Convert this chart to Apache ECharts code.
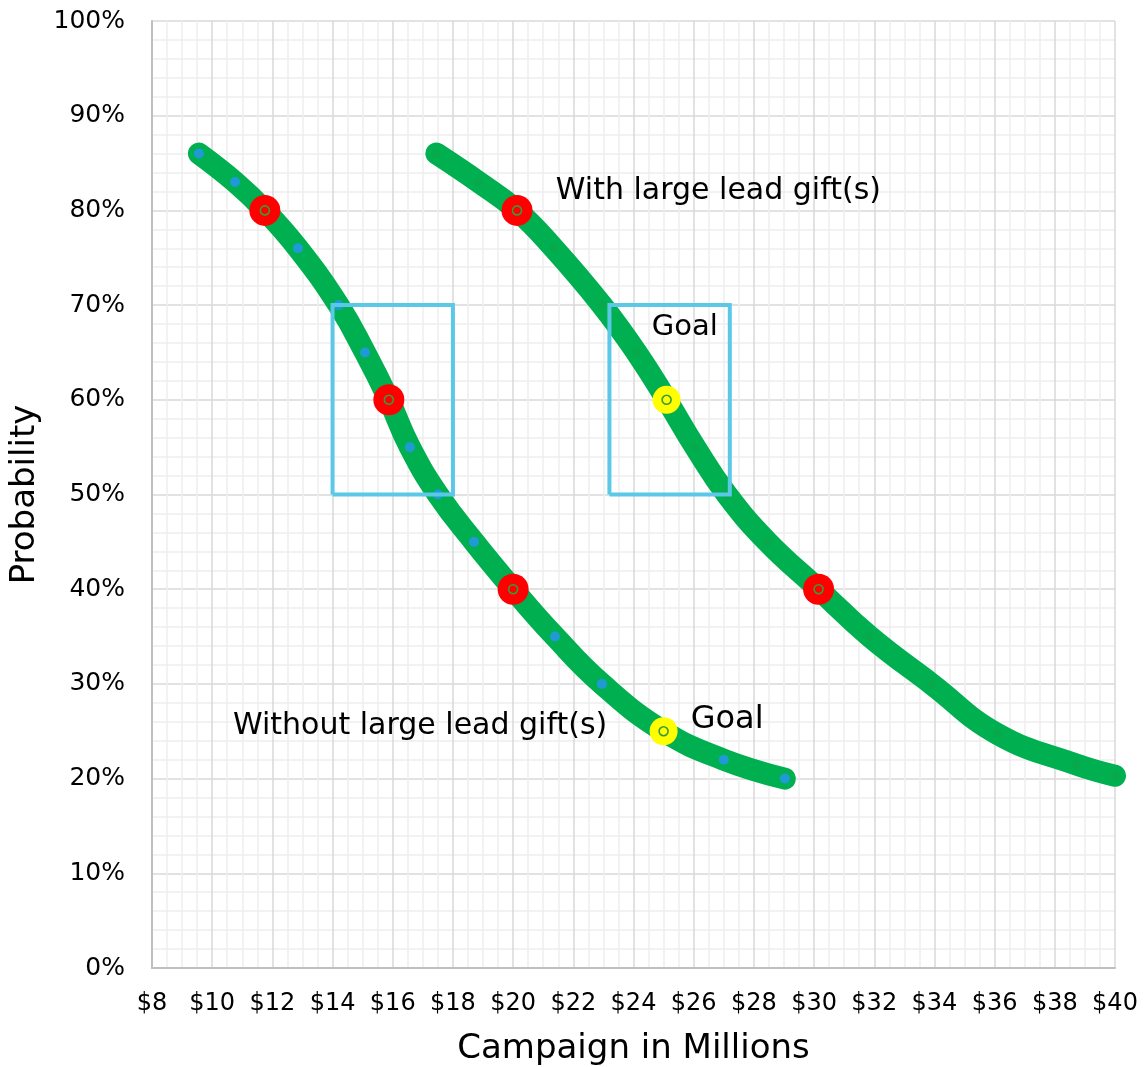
<!DOCTYPE html>
<html>
<head>
<meta charset="utf-8">
<script src="https://cdn.jsdelivr.net/npm/echarts@6/dist/echarts.min.js"></script>
<style>
html,body{margin:0;padding:0;background:#fff;}
#chart{width:1144px;height:1067px;}
</style>
</head>
<body>
<div id="chart"></div>
<script>
// Data
const withoutX = [9.56, 10.76, 11.75, 12.85, 14.2, 15.08, 15.87, 16.57, 17.5, 18.7, 20.0, 21.39, 22.95, 25.0, 27.0, 29.03];
const withoutY = [86, 83, 80, 76, 70, 65, 60, 55, 50, 45, 40, 35, 30, 25, 22, 20];
const withX = [17.45, 18.85, 20.13, 21.35, 22.95, 24.1, 25.1, 26.05, 27.1, 28.45, 30.15, 31.85, 33.9, 36.1, 38.7, 40.0];
const withY = [86, 83, 80, 76, 70, 65, 60, 55, 50, 45, 40, 35, 30, 24.7, 21.5, 20.3];
const redX = [11.75, 15.87, 20.0, 20.13, 30.15];
const redY = [80, 60, 40, 80, 40];
const goalX = [25.0, 25.1];
const goalY = [25, 60];
const box1X = [14, 14, 18, 18, 14];
const box1Y = [50, 70, 70, 50, 50];
const box2X = [23.2, 23.2, 27.2, 27.2, 23.2];
const box2Y = [50, 70, 70, 50, 50];
const labelTexts = ['With large lead gift(s)', 'Without large lead gift(s)', 'Goal', 'Goal'];
const labelX = [21.42, 10.69, 24.61, 25.9];
const labelY = [82.0, 25.5, 67.6, 26.2];
const labelSizes = [30, 30, 29, 32];
const xTicks = [8, 10, 12, 14, 16, 18, 20, 22, 24, 26, 28, 30, 32, 34, 36, 38, 40];
const yTicks = [0, 10, 20, 30, 40, 50, 60, 70, 80, 90, 100];

const zip = (a, b) => a.map((v, i) => [v, b[i]]);
const FONT = 'DejaVu Sans';

const chart = echarts.init(document.getElementById('chart'), null, {renderer: 'canvas'});
const option = {
  animation: false,
  backgroundColor: '#ffffff',
  textStyle: {fontFamily: FONT},
  grid: {left: 152, right: 29, top: 21, bottom: 99, containLabel: false, outerBoundsMode: 'none'},
  xAxis: {
    type: 'value', min: xTicks[0], max: xTicks[xTicks.length - 1], interval: 2,
    name: 'Campaign in Millions', nameLocation: 'middle', nameGap: 64,
    nameTextStyle: {fontSize: 34, color: '#000', fontFamily: FONT},
    axisLine: {show: true, lineStyle: {color: '#bfbfbf', width: 2}},
    axisTick: {show: false},
    axisLabel: {fontSize: 24, color: '#000', margin: 24, formatter: v => '$' + v, fontFamily: FONT},
    splitLine: {show: true, lineStyle: {color: '#d9d9d9', width: 1.5}},
    minorTick: {show: false, splitNumber: 4},
    minorSplitLine: {show: true, lineStyle: {color: '#eeeeee', width: 1.5}}
  },
  yAxis: {
    type: 'value', min: yTicks[0], max: yTicks[yTicks.length - 1], interval: 10,
    name: 'Probability', nameLocation: 'middle', nameGap: 108, nameRotate: 90,
    nameTextStyle: {fontSize: 34, color: '#000', fontFamily: FONT},
    axisLine: {show: true, lineStyle: {color: '#bfbfbf', width: 2}},
    axisTick: {show: false},
    axisLabel: {fontSize: 25, color: '#000', margin: 27, formatter: v => v + '%', fontFamily: FONT},
    splitLine: {show: true, lineStyle: {color: '#d9d9d9', width: 1.5}},
    minorTick: {show: false, splitNumber: 5},
    minorSplitLine: {show: true, lineStyle: {color: '#eeeeee', width: 1.5}}
  },
  series: [
    {
      type: 'line', name: 'Without', data: zip(withoutX, withoutY), smooth: 0.45,
      showSymbol: true, symbol: 'circle', symbolSize: 10,
      itemStyle: {color: '#1f9ad6', opacity: 1},
      lineStyle: {color: '#00b050', width: 22, cap: 'round', join: 'round'},
      z: 2
    },
    {
      type: 'line', name: 'With', data: zip(withX, withY), smooth: 0.45,
      showSymbol: true, symbol: 'circle', symbolSize: 9,
      itemStyle: {color: '#07a94b', opacity: 1},
      lineStyle: {color: '#00b050', width: 22, cap: 'round', join: 'round'},
      z: 2
    },
    {
      type: 'line', data: zip(box1X, box1Y), showSymbol: false, silent: true,
      lineStyle: {color: '#5bc8e8', width: 4, join: 'miter'}, z: 3
    },
    {
      type: 'line', data: zip(box2X, box2Y), showSymbol: false, silent: true,
      lineStyle: {color: '#5bc8e8', width: 4, join: 'miter'}, z: 3
    },
    {
      type: 'scatter', data: zip(redX, redY), symbol: 'circle', symbolSize: 31,
      itemStyle: {color: '#ff0000', opacity: 1}, z: 4
    },
    {
      type: 'scatter', data: zip(goalX, goalY), symbol: 'circle', symbolSize: 28,
      itemStyle: {color: '#ffff00', opacity: 1}, z: 4
    },
    {
      type: 'scatter', data: zip(redX.concat(goalX), redY.concat(goalY)), symbol: 'circle', symbolSize: 9,
      itemStyle: {color: 'rgba(0,0,0,0)', borderColor: '#3a9a3a', borderWidth: 1.6, opacity: 1}, z: 5
    },
    {
      type: 'scatter', symbolSize: 0, silent: true, z: 6,
      itemStyle: {opacity: 1},
      data: labelTexts.map((t, i) => ({
        value: [labelX[i], labelY[i]],
        label: {show: true, position: 'right', distance: 0, formatter: t, opacity: 1,
                fontSize: labelSizes[i], color: '#000000', fontFamily: FONT, textBorderWidth: 0}
      }))
    }
  ]
};
chart.setOption(option);
</script>
</body>
</html>
